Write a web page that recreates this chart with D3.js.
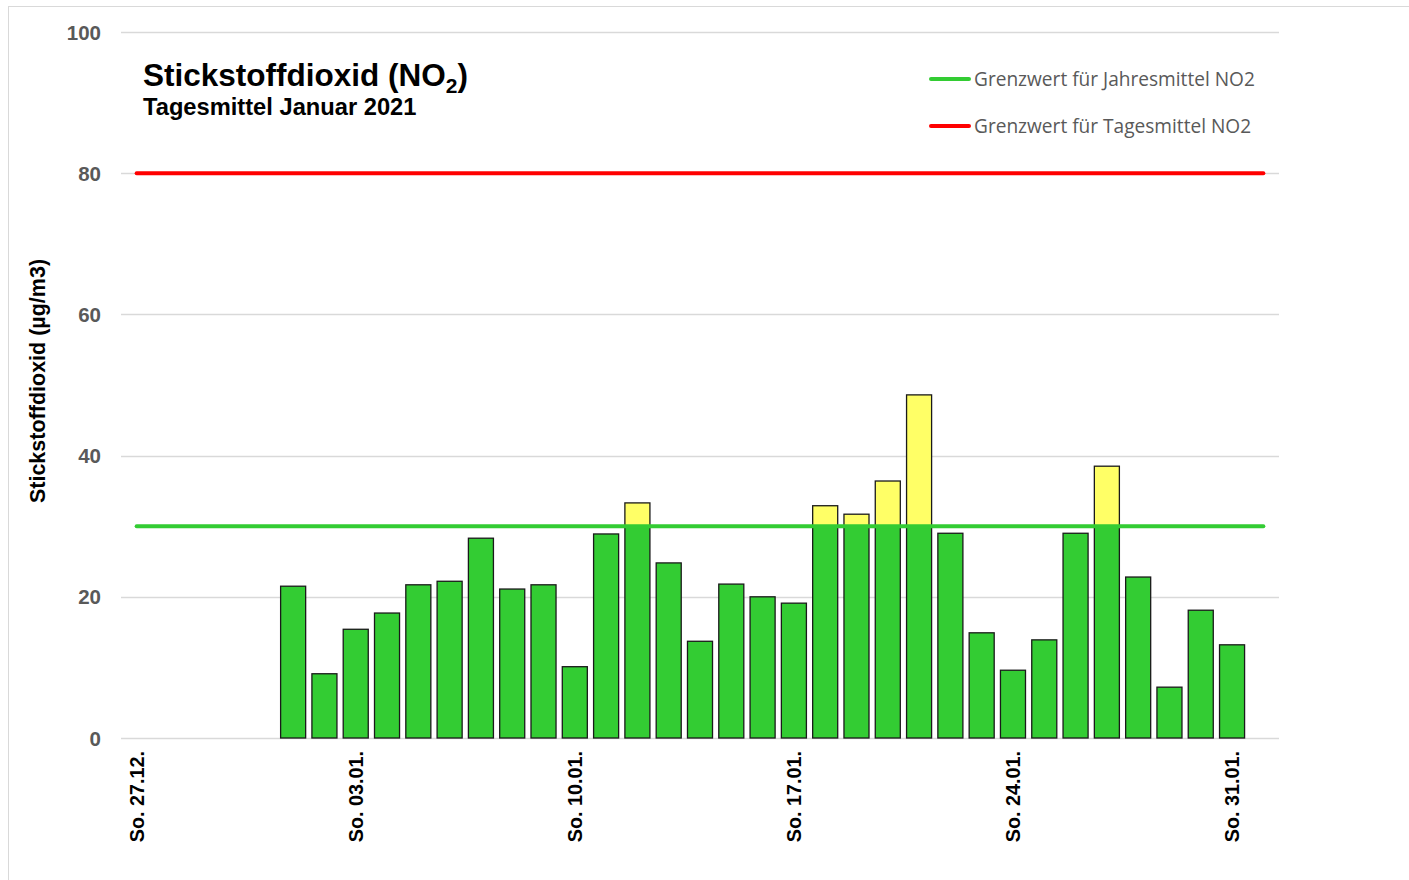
<!DOCTYPE html>
<html>
<head>
<meta charset="utf-8">
<script src="https://cdn.jsdelivr.net/npm/d3@7"></script>
<style>
  body { margin: 0; background: #fff; }
  svg { display: block; }
</style>
</head>
<body>
<div id="chart"></div>
<script>
// days shown on the category axis (27.12.2020 - 01.02.2021)
const days = ['27.12.', '28.12.', '29.12.', '30.12.', '31.12.',
  '01.01.', '02.01.', '03.01.', '04.01.', '05.01.', '06.01.', '07.01.', '08.01.', '09.01.', '10.01.',
  '11.01.', '12.01.', '13.01.', '14.01.', '15.01.', '16.01.', '17.01.', '18.01.', '19.01.', '20.01.',
  '21.01.', '22.01.', '23.01.', '24.01.', '25.01.', '26.01.', '27.01.', '28.01.', '29.01.', '30.01.',
  '31.01.', '01.02.'];
// daily mean NO2 (µg/m3), null = no value
const no2 = [null, null, null, null, null,
  21.5, 9.1, 15.4, 17.7, 21.7, 22.2, 28.3, 21.1, 21.7, 10.1,
  28.9, 33.3, 24.8, 13.7, 21.8, 20.0, 19.1, 32.9, 31.7, 36.4,
  48.6, 29.0, 14.9, 9.6, 13.9, 29.0, 38.5, 22.8, 7.2, 18.1,
  13.2, null];
const tickLabels = ['So. 27.12.', 'So. 03.01.', 'So. 10.01.', 'So. 17.01.', 'So. 24.01.', 'So. 31.01.'];
const tickDays = ['27.12.', '03.01.', '10.01.', '17.01.', '24.01.', '31.01.'];
const yTicks = [0, 20, 40, 60, 80, 100];
const limitYear = 30;  // Grenzwert Jahresmittel
const limitDay = 80;   // Grenzwert Tagesmittel

const W = 1409, H = 880;
const green = '#33cc33', yellow = '#ffff66', red = '#ff0000';
const arial = "'Liberation Sans', Arial, sans-serif";

const svg = d3.select('#chart').append('svg')
  .attr('width', W)
  .attr('height', H);

// outer frame
svg.append('rect')
  .attr('x', 8.5).attr('y', 6.5)
  .attr('width', W).attr('height', H)
  .attr('fill', 'none')
  .attr('stroke', '#d9d9d9');

const x = d3.scaleBand()
  .domain(days)
  .range([121, 1279])
  .paddingInner(0.2)
  .paddingOuter(0.1);

const y = d3.scaleLinear()
  .domain([0, 100])
  .range([738, 32]);

// gridlines
svg.append('g')
  .selectAll('line')
  .data(yTicks)
  .join('line')
  .attr('x1', 121).attr('x2', 1279)
  .attr('y1', d => Math.round(y(d)) + 0.5)
  .attr('y2', d => Math.round(y(d)) + 0.5)
  .attr('stroke', '#d9d9d9')
  .attr('stroke-width', 1.3);

// y tick labels
svg.append('g')
  .selectAll('text')
  .data(yTicks)
  .join('text')
  .attr('x', 101)
  .attr('y', d => y(d) + 7.5)
  .attr('text-anchor', 'end')
  .attr('font-family', arial)
  .attr('font-weight', 'bold')
  .attr('font-size', 20.5)
  .attr('fill', '#595959')
  .text(d => d);

// bars: green part up to the annual limit, yellow part above it
const vals = days.map((d, i) => ({ day: d, v: no2[i] })).filter(d => d.v != null);
const bars = svg.append('g');
bars.selectAll('rect.low')
  .data(vals)
  .join('rect')
  .attr('class', 'low')
  .attr('x', d => x(d.day))
  .attr('width', x.bandwidth())
  .attr('y', d => y(Math.min(d.v, limitYear)))
  .attr('height', d => y(0) - y(Math.min(d.v, limitYear)))
  .attr('fill', green)
  .attr('stroke', '#1a1a1a')
  .attr('stroke-width', 1.3);
bars.selectAll('rect.high')
  .data(vals.filter(d => d.v > limitYear))
  .join('rect')
  .attr('class', 'high')
  .attr('x', d => x(d.day))
  .attr('width', x.bandwidth())
  .attr('y', d => y(d.v))
  .attr('height', d => y(limitYear) - y(d.v))
  .attr('fill', yellow)
  .attr('stroke', '#1a1a1a')
  .attr('stroke-width', 1.3);

// limit lines, from first to last category centre
const cx = d => x(d) + x.bandwidth() / 2;
[[limitYear, green], [limitDay, red]].forEach(([v, c]) => {
  svg.append('line')
    .attr('x1', cx(days[0]))
    .attr('x2', cx(days[days.length - 1]))
    .attr('y1', y(v)).attr('y2', y(v))
    .attr('stroke', c)
    .attr('stroke-width', 4)
    .attr('stroke-linecap', 'round');
});

// x tick labels (Sundays)
svg.append('g')
  .selectAll('text')
  .data(tickDays)
  .join('text')
  .attr('transform', d => `translate(${cx(d) + 7},751) rotate(-90)`)
  .attr('text-anchor', 'end')
  .attr('font-family', arial)
  .attr('font-weight', 'bold')
  .attr('font-size', 19.8)
  .attr('fill', '#000')
  .text((d, i) => tickLabels[i]);

// y axis title
svg.append('text')
  .attr('transform', 'translate(45,381) rotate(-90)')
  .attr('text-anchor', 'middle')
  .attr('font-family', arial)
  .attr('font-weight', 'bold')
  .attr('font-size', 21.5)
  .text('Stickstoffdioxid (µg/m3)');

// title
const title = svg.append('text')
  .attr('x', 143).attr('y', 86)
  .attr('font-family', arial)
  .attr('font-weight', 'bold')
  .attr('font-size', 31.5);
title.append('tspan').text('Stickstoffdioxid (NO');
title.append('tspan').attr('font-size', 21).attr('dy', 7).text('2');
title.append('tspan').attr('dy', -7).text(')');

svg.append('text')
  .attr('x', 143).attr('y', 115)
  .attr('font-family', arial)
  .attr('font-weight', 'bold')
  .attr('font-size', 23.7)
  .text('Tagesmittel Januar 2021');

// legend
const legend = [['Grenzwert für Jahresmittel NO2', green, 79], ['Grenzwert für Tagesmittel NO2', red, 126]];
legend.forEach(([label, c, ly]) => {
  svg.append('line')
    .attr('x1', 931).attr('x2', 969)
    .attr('y1', ly).attr('y2', ly)
    .attr('stroke', c)
    .attr('stroke-width', 4)
    .attr('stroke-linecap', 'round');
  svg.append('text')
    .attr('x', 974).attr('y', ly + 7)
    .attr('font-family', 'Open Sans, sans-serif')
    .attr('font-size', 19.1)
    .attr('fill', '#595959')
    .text(label);
});
</script>
</body>
</html>
